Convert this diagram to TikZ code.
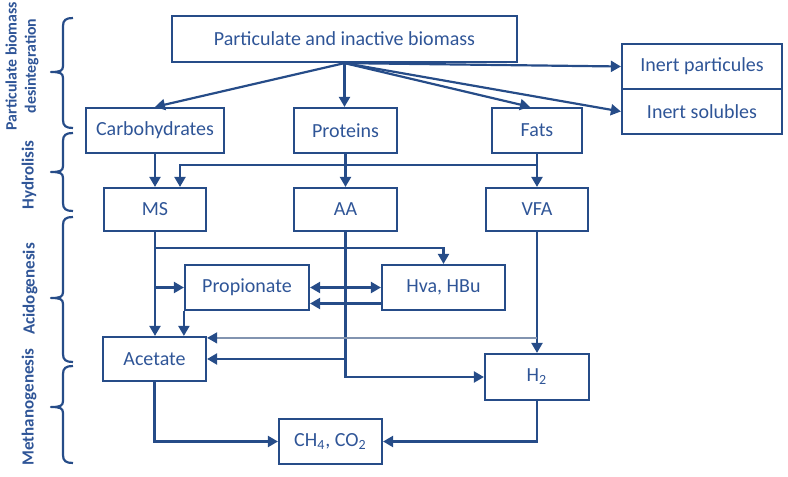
\documentclass[tikz,border=0pt]{standalone}
\usepackage{fontspec}
\setmainfont{Carlito}
\usetikzlibrary{arrows.meta,calc}
\definecolor{linec}{RGB}{38,76,136}
\definecolor{textc}{RGB}{47,85,151}
\definecolor{thinc}{RGB}{130,148,176}
\newcommand\mybrace[3]{%
  \draw[bracestyle] (73,#1) .. controls (66,#1) and (63,#1+2) .. (63,#1+8)
    -- (63,#2-6) .. controls (63,#2-1) and (60,#2) .. (51,#2)
    .. controls (60,#2) and (63,#2+1) .. (63,#2+6)
    -- (63,#3-8) .. controls (63,#3-2) and (66,#3) .. (73,#3);}
\begin{document}
\begin{tikzpicture}[x=0.5pt,y=-0.5pt,
  box/.style 2 args={draw=linec, line width=1.1pt, text=textc, inner sep=0pt,
    minimum width=#1*0.5pt, minimum height=#2*0.5pt, font=\fontsize{10}{12}\selectfont},
  arr/.style={draw=linec, line width=1.1pt, -{Triangle[length=5pt,width=5.5pt]}},
  dblarr/.style={draw=linec, line width=1.1pt, {Triangle[length=5pt,width=5.5pt]}-{Triangle[length=5pt,width=5.5pt]}},
  thinarr/.style={draw=thinc, line width=0.6pt, -{Triangle[length=5pt,width=5.5pt,color=linec]}},
  bracestyle/.style={draw=linec, line width=1.1pt, line join=round},
  lbl/.style={text=textc, font=\bfseries\fontsize{8.5}{10}\selectfont, rotate=90, align=center, inner sep=0pt}
]
\useasboundingbox (0,0) rectangle (788,477);

% boxes
\node[box={345}{46}] (pib) at (344.5,39) {Particulate and inactive biomass};
\node[box={160}{45}] (ip) at (702,66.5) {Inert particules};
\node[box={160}{45}] (is) at (702,111.5) {Inert solubles};
\node[box={138}{45}] (carb) at (155,130.5) {Carbohydrates};
\node[box={103}{45}] (prot) at (345.5,130.5) {Proteins};
\node[box={90}{45}] (fats) at (537,130.5) {Fats};
\node[box={102}{43}] (ms) at (155,209.5) {MS};
\node[box={103}{43}] (aa) at (345.5,209.5) {AA};
\node[box={102}{43}] (vfa) at (537,209.5) {VFA};
\node[box={124}{45}] (prop) at (247,287.5) {Propionate};
\node[box={123}{45}] (hva) at (443.5,287.5) {Hva, HBu};
\node[box={103}{44}] (acet) at (154.5,359) {Acetate};
\node[box={104}{46}] (h2) at (537,377) {H\textsubscript{2}};
\node[box={103}{45}] (ch4) at (330.5,441.5) {CH\textsubscript{4}, CO\textsubscript{2}};

% disintegration
\draw[arr] (pib.south) -- (carb.north);
\draw[arr] (pib.south) -- (pib.south |- prot.north);
\draw[arr] (pib.south) -- ($(fats.north)+(-7,0)$);
\draw[arr] (pib.south) -- (ip.west);
\draw[arr] (pib.south) -- (is.west);

% hydrolysis
\draw[arr] (carb.south) -- (ms.north);
\draw[arr] (prot.south) -- (aa.north);
\draw[arr] (fats.south) -- (vfa.north);
\draw[arr] (fats.south) -- ++(0,11) -| ($(ms.north)+(25,0)$);

% acidogenesis
\draw[arr] (ms.south) -- (ms.south |- acet.north);
\draw[arr] (ms.south) -- ++(0,16) -| (hva.north);
\draw[arr] (ms.south |- prop.west) -- (prop.west);
\draw[arr] (prop.south west) -- (prop.south west |- acet.north);
\draw[dblarr] (prop.east) -- (hva.west);
\draw[arr] ($(hva.west)+(0,16)$) -- ($(prop.east)+(0,16)$);
\draw[arr] (aa.south) |- (acet.east);
\draw[arr] (aa.south) |- (h2.west);
\draw[arr] (vfa.south) -- (h2.north);
\coordinate (tv) at ($(acet.north east)+(0,2)$);
\draw[thinarr] (vfa.south |- tv) -- (tv);

% methanogenesis
\draw[arr] (acet.south) |- (ch4.west);
\draw[arr] (h2.south) |- (ch4.east);

% braces
\mybrace{18}{72}{128}
\mybrace{133}{172}{211}
\mybrace{217}{298}{362}
\mybrace{366}{407}{463}

\node[lbl, font=\bfseries\fontsize{7.9}{9.6}\selectfont] (l1) at (22,66) {Particulate biomass\\desintegration};
\node[lbl] (l2) at (29,175) {Hydrolisis};
\node[lbl] (l3) at (30,289) {Acidogenesis};
\node[lbl] (l4) at (29,407) {Methanogenesis};
\end{tikzpicture}
\end{document}
